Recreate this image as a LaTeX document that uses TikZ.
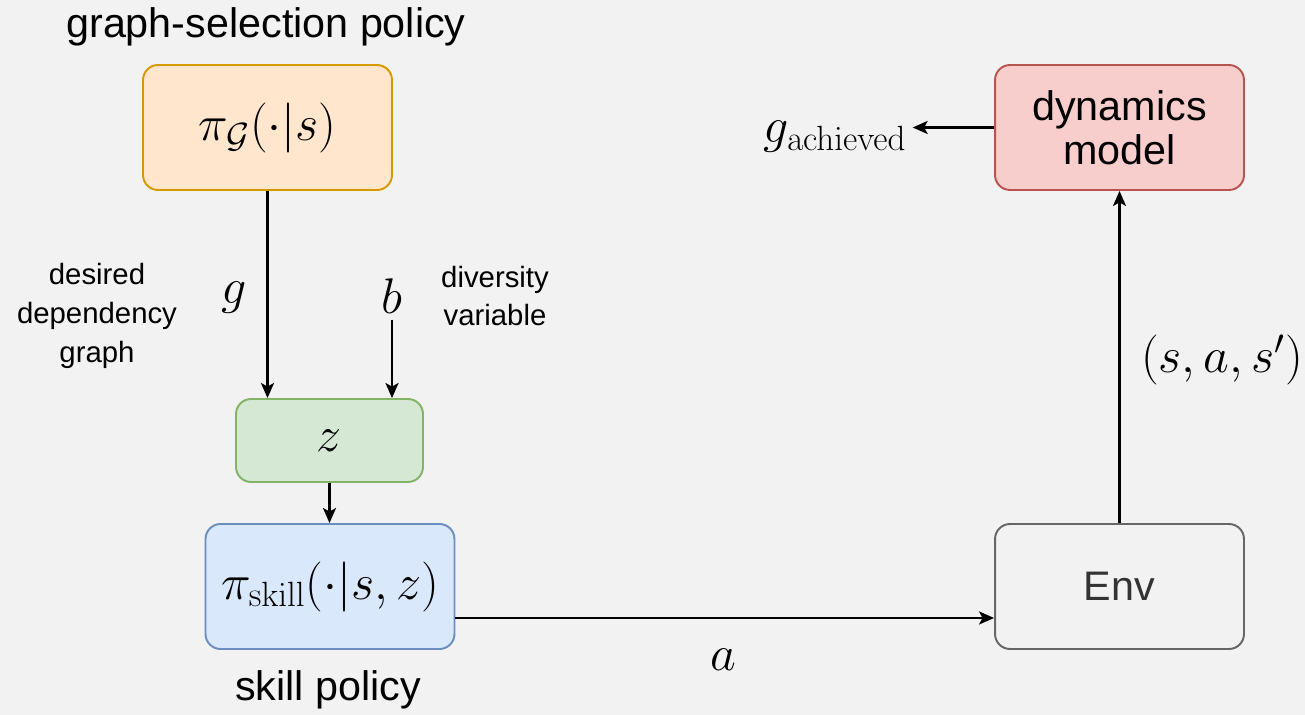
\RequirePackage{fix-cm}
\documentclass[tikz,border=0pt]{standalone}
\usepackage[no-math]{fontspec}
\setmainfont{Liberation Sans}
\usetikzlibrary{arrows.meta}
\definecolor{bgcol}{HTML}{F2F2F2}
\definecolor{orfill}{HTML}{FFE6CC}
\definecolor{ordraw}{HTML}{D79B00}
\definecolor{grfill}{HTML}{D5E8D4}
\definecolor{grdraw}{HTML}{82B366}
\definecolor{blfill}{HTML}{DAE8FC}
\definecolor{bldraw}{HTML}{6C8EBF}
\definecolor{rdfill}{HTML}{F8CECC}
\definecolor{rddraw}{HTML}{B85450}
\definecolor{envdraw}{HTML}{666666}
\definecolor{envtext}{HTML}{333333}
\begin{document}
\begin{tikzpicture}[x=0.02cm, y=-0.02cm]
        \tikzstyle{box}=[rounded corners=0.3cm, line width=1.1pt, align=center, minimum width=4.98cm, minimum height=2.5cm, font=\fontsize{23.5}{25}\selectfont]
        \tikzstyle{mathlbl}=[font=\fontsize{28.5}{30}\selectfont]
        \tikzstyle{smalltxt}=[align=center, font=\fontsize{16.7}{22}\selectfont]
        \tikzstyle{arr}=[line width=1.3pt, -{Stealth[length=3mm, width=2.6mm, inset=0.7mm]}]
        \fill[bgcol] (0,0) rectangle (1305,715);
        \useasboundingbox (0,0) rectangle (1305,715);
        % boxes
        \node[box, fill=orfill, draw=ordraw, mathlbl] (sel) at (267.5,127.5) {$\pi_{\mathcal{G}}(\cdot|s)$};
        \node[box, fill=grfill, draw=grdraw, mathlbl, minimum width=3.74cm, minimum height=1.66cm] (lat) at (329.5,440.5) {$z$};
        \node[box, fill=blfill, draw=bldraw, mathlbl] (skill) at (330,586.5) {$\pi_{\mathrm{skill}}(\cdot|s,z)$};
        \node[box, fill=rdfill, draw=rddraw] (dyn) at (1119.5,127.5) {dynamics\\model};
        \node[box, draw=envdraw, text=envtext] (env) at (1119.5,586.5) {Env};
        % labels
        \node[font=\fontsize{23.5}{25}\selectfont] (seltitle) at (266,27) {graph-selection policy};
        \node[font=\fontsize{23.5}{25}\selectfont] (skilltitle) at (328,690) {skill policy};
        \node[smalltxt] (gtxt) at (97,316) {desired\\dependency\\graph};
        \node[smalltxt] (btxt) at (495,296) {diversity\\variable};
        \node[mathlbl] (g) at (234,298) {$g$};
        \node[mathlbl] (b) at (392,296) {$b$};
        \node[mathlbl] (a) at (723,660) {$a$};
        \node[mathlbl] (sas) at (1222,360) {$(s,a,s')$};
        \node[mathlbl] (gach) at (835,137) {$g_{\mathrm{achieved}}$};
        % connectors
        \draw[arr] (sel.south) -- (sel.south |- lat.north);
        \draw[arr] (b.south) -- (b.south |- lat.north);
        \draw[arr] (lat.south) -- (lat.south |- skill.north);
        \draw[arr] ([yshift=-0.63cm]skill.east) -- ([yshift=-0.63cm]env.west);
        \draw[arr] (env.north) -- (dyn.south);
        \draw[arr] (dyn.west) -- (dyn.west -| gach.east);
    \end{tikzpicture}
\end{document}
